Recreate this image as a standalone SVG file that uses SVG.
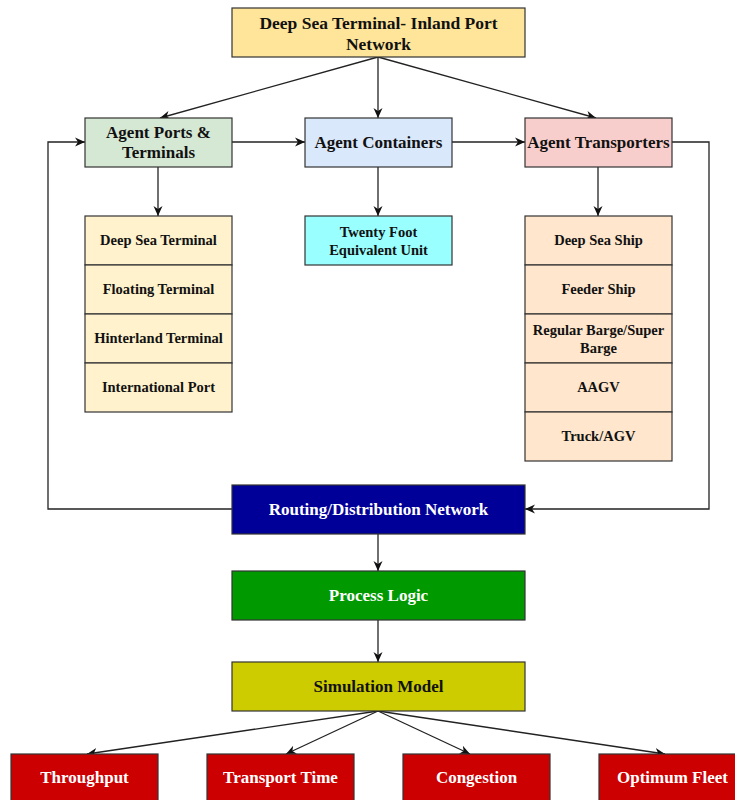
<svg xmlns="http://www.w3.org/2000/svg" width="735" height="800" viewBox="0 0 735 800">
<style>
.b{stroke:#333;stroke-width:1.2}
.t{font-family:"Liberation Serif","Times New Roman",serif;font-weight:bold;text-anchor:middle;fill:#111}
.m{font-size:17px}
.s{font-size:14.5px}
.w{fill:#fff}
.e{fill:none;stroke:#222;stroke-width:1.3}
</style>
<defs>
<marker id="a" viewBox="0 0 10 10" refX="10" refY="5" markerWidth="10" markerHeight="10" markerUnits="userSpaceOnUse" orient="auto">
<path d="M0,0.5 L10,5 L0,9.5 L3,5 z" fill="#111"/>
</marker>
</defs>
<rect width="735" height="800" fill="#fff"/>
<g id="edges">
<path class="e" d="M378,57 L160,118" marker-end="url(#a)"/>
<path class="e" d="M378,57 L378,118" marker-end="url(#a)"/>
<path class="e" d="M378,57 L596,118" marker-end="url(#a)"/>
<path class="e" d="M232,142 L305,142" marker-end="url(#a)"/>
<path class="e" d="M452,142 L525,142" marker-end="url(#a)"/>
<path class="e" d="M158,167 L158,216" marker-end="url(#a)"/>
<path class="e" d="M378,167 L378,216" marker-end="url(#a)"/>
<path class="e" d="M598,167 L598,216" marker-end="url(#a)"/>
<path class="e" d="M232,509 L48,509 L48,142 L85,142" marker-end="url(#a)"/>
<path class="e" d="M672,142 L709,142 L709,509 L525,509" marker-end="url(#a)"/>
<path class="e" d="M378,534 L378,571" marker-end="url(#a)"/>
<path class="e" d="M378,620 L378,662" marker-end="url(#a)"/>
<path class="e" d="M378,711 L87,754" marker-end="url(#a)"/>
<path class="e" d="M378,711 L286,754" marker-end="url(#a)"/>
<path class="e" d="M378,711 L470,754" marker-end="url(#a)"/>
<path class="e" d="M378,711 L665,754" marker-end="url(#a)"/>
</g>
<g id="top">
<rect class="b" x="232" y="8" width="293" height="49" fill="#FFE599"/>
<text class="t" x="378.5" y="29" font-size="17.5">Deep Sea Terminal- Inland Port</text>
<text class="t" x="378.5" y="50" font-size="17.5">Network</text>
</g>
<g id="ports">
<rect class="b" x="85" y="118" width="147" height="49" fill="#D5E8D4"/>
<text class="t m" x="158.5" y="138">Agent Ports &amp;</text>
<text class="t m" x="158.5" y="158">Terminals</text>
</g>
<g id="containers">
<rect class="b" x="305" y="118" width="147" height="49" fill="#DAE8FC"/>
<text class="t m" x="378.5" y="148">Agent Containers</text>
</g>
<g id="transporters">
<rect class="b" x="525" y="118" width="147" height="49" fill="#F8CECC"/>
<text class="t m" x="598.5" y="148">Agent Transporters</text>
</g>
<g id="terminals">
<rect class="b" x="85" y="216" width="147" height="49" fill="#FFF2CC"/>
<rect class="b" x="85" y="265" width="147" height="49" fill="#FFF2CC"/>
<rect class="b" x="85" y="314" width="147" height="49" fill="#FFF2CC"/>
<rect class="b" x="85" y="363" width="147" height="49" fill="#FFF2CC"/>
<text class="t s" x="158.5" y="245">Deep Sea Terminal</text>
<text class="t s" x="158.5" y="294">Floating Terminal</text>
<text class="t s" x="158.5" y="343">Hinterland Terminal</text>
<text class="t s" x="158.5" y="392">International Port</text>
</g>
<g id="teu">
<rect class="b" x="305" y="216" width="147" height="49" fill="#99FFFF"/>
<text class="t s" x="378.5" y="237">Twenty Foot</text>
<text class="t s" x="378.5" y="255">Equivalent Unit</text>
</g>
<g id="vehicles">
<rect class="b" x="525" y="216" width="147" height="49" fill="#FFE6CC"/>
<rect class="b" x="525" y="265" width="147" height="49" fill="#FFE6CC"/>
<rect class="b" x="525" y="314" width="147" height="49" fill="#FFE6CC"/>
<rect class="b" x="525" y="363" width="147" height="49" fill="#FFE6CC"/>
<rect class="b" x="525" y="412" width="147" height="49" fill="#FFE6CC"/>
<text class="t s" x="598.5" y="245">Deep Sea Ship</text>
<text class="t s" x="598.5" y="294">Feeder Ship</text>
<text class="t s" x="598.5" y="335">Regular Barge/Super</text>
<text class="t s" x="598.5" y="353">Barge</text>
<text class="t s" x="598.5" y="392">AAGV</text>
<text class="t s" x="598.5" y="441">Truck/AGV</text>
</g>
<g id="routing">
<rect class="b" x="232" y="485" width="293" height="49" fill="#000099"/>
<text class="t m w" x="378.5" y="515">Routing/Distribution Network</text>
</g>
<g id="process">
<rect class="b" x="232" y="571" width="293" height="49" fill="#009900"/>
<text class="t m w" x="378.5" y="601">Process Logic</text>
</g>
<g id="simulation">
<rect class="b" x="232" y="662" width="293" height="49" fill="#CCCC00"/>
<text class="t m" x="378.5" y="692">Simulation Model</text>
</g>
<g id="throughput">
<rect class="b" x="11" y="754" width="147" height="49" fill="#CC0000"/>
<text class="t m w" x="84.5" y="783">Throughput</text>
</g>
<g id="transport-time">
<rect class="b" x="207" y="754" width="147" height="49" fill="#CC0000"/>
<text class="t m w" x="280.5" y="783">Transport Time</text>
</g>
<g id="congestion">
<rect class="b" x="403" y="754" width="147" height="49" fill="#CC0000"/>
<text class="t m w" x="476.5" y="783">Congestion</text>
</g>
<g id="fleet">
<rect class="b" x="599" y="754" width="147" height="49" fill="#CC0000"/>
<text class="t m w" x="672.5" y="783">Optimum Fleet</text>
</g>
</svg>
